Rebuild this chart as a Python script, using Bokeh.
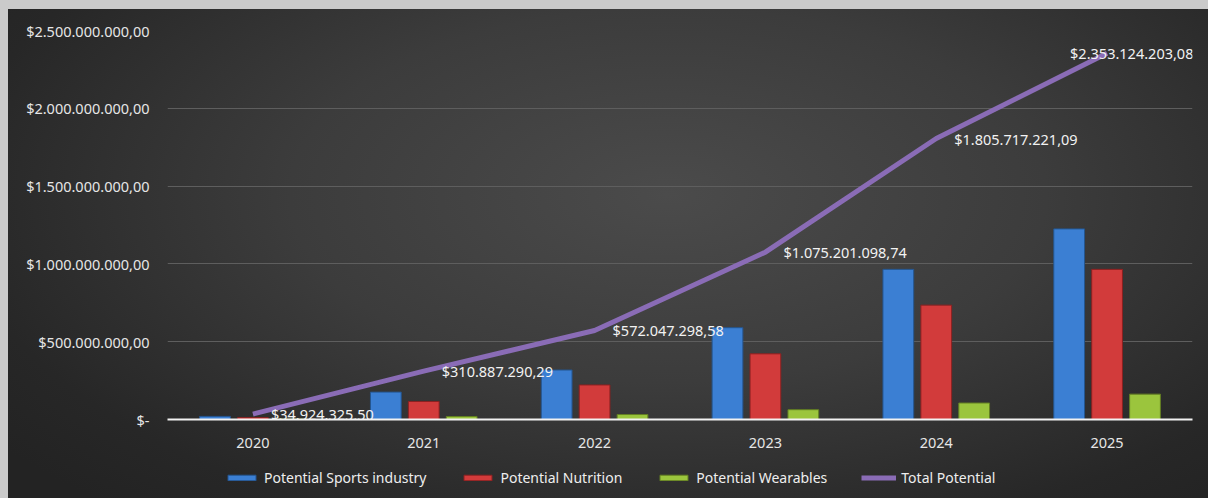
import numpy as np
from bokeh.plotting import figure
from bokeh.models import ColumnDataSource, FactorRange, Range1d, FixedTicker, Legend, LegendItem, LabelSet
from bokeh.transform import dodge
from bokeh.layouts import column
from bokeh.embed import file_html
from bokeh.resources import INLINE
from bokeh.core.properties import value

# ---- data ----
years = ["2020", "2021", "2022", "2023", "2024", "2025"]
sports = [20e6, 176e6, 318e6, 590e6, 965e6, 1225e6]
nutrition = [12e6, 116e6, 222e6, 422e6, 735e6, 965e6]
wearables = [3e6, 19e6, 32e6, 63e6, 106e6, 163e6]
total = [34924325.50, 310887290.29, 572047298.58, 1075201098.74, 1805717221.09, 2353124203.08]
total_labels = ["$34.924.325,50", "$310.887.290,29", "$572.047.298,58",
                "$1.075.201.098,74", "$1.805.717.221,09", "$2.353.124.203,08"]
y_ticks = [0, 500000000, 1000000000, 1500000000, 2000000000, 2500000000]
y_tick_labels = ["$-", "$500.000.000,00", "$1.000.000.000,00", "$1.500.000.000,00",
                 "$2.000.000.000,00", "$2.500.000.000,00"]
series_names = ["Potential Sports industry", "Potential Nutrition", "Potential Wearables", "Total Potential"]

FONT = "Noto Sans"
BLUE, BLUE_E = "#3b7fd3", "#24558f"
RED, RED_E = "#d23b3b", "#8c2020"
GREEN, GREEN_E = "#9bc53d", "#637f22"
PURPLE = "#8a6cb6"

src = ColumnDataSource(dict(years=years, sports=sports, nutrition=nutrition,
                            wearables=wearables, total=total, lbl=total_labels))
# label placement (style): right of point, last one pulled left so it stays inside
src.data["xoff"] = [18, 18, 18, 18, 18, -37]

p = figure(x_range=FactorRange(*years), y_range=Range1d(0, 2500000000),
           frame_width=1025, frame_height=389, output_backend="svg", toolbar_location=None,
           min_border_left=159, min_border_right=16, min_border_top=21, min_border_bottom=48)
p.background_fill_alpha = 0
p.border_fill_alpha = 0
p.outline_line_color = None

p.vbar(x=dodge("years", -0.222, range=p.x_range), top="sports", width=0.18, source=src,
       fill_color=BLUE, line_color=BLUE_E, line_width=1)
p.vbar(x=dodge("years", 0.0, range=p.x_range), top="nutrition", width=0.18, source=src,
       fill_color=RED, line_color=RED_E, line_width=1)
p.vbar(x=dodge("years", 0.222, range=p.x_range), top="wearables", width=0.18, source=src,
       fill_color=GREEN, line_color=GREEN_E, line_width=1)
p.line(x="years", y="total", source=src, line_width=5, line_color=PURPLE)

labels = LabelSet(x="years", y="total", text="lbl", source=src, x_offset="xoff", y_offset=0,
                  text_baseline="middle", text_align="left", text_font=value(FONT),
                  text_font_size="14.5px", text_color="#f2f2f2")
p.add_layout(labels)

# axes
p.yaxis.ticker = FixedTicker(ticks=y_ticks)
p.yaxis.major_label_overrides = dict(zip(y_ticks, y_tick_labels))
p.yaxis.axis_line_color = None
p.yaxis.major_tick_line_color = None
p.yaxis.minor_tick_line_color = None
p.yaxis.major_label_standoff = 12
p.yaxis.major_label_text_font = FONT
p.yaxis.major_label_text_font_size = "14.5px"
p.yaxis.major_label_text_color = "#e6e6e6"

p.xaxis.axis_line_color = "#f2f2f2"
p.xaxis.axis_line_width = 2
p.xaxis.major_tick_line_color = None
p.xaxis.minor_tick_line_color = None
p.xaxis.major_label_standoff = 12
p.xaxis.major_label_text_font = FONT
p.xaxis.major_label_text_font_size = "14.5px"
p.xaxis.major_label_text_color = "#e6e6e6"

p.xgrid.grid_line_color = None
p.ygrid.grid_line_color = "#5e5e5e"
p.ygrid.grid_line_width = 1

# ---- legend strip (separate, transparent figure below the chart) ----
lg = figure(width=1200, height=31, x_range=Range1d(0, 1), y_range=Range1d(0, 1),
            x_axis_type=None, y_axis_type=None, output_backend="svg", toolbar_location=None,
            min_border=0)
lg.background_fill_alpha = 0
lg.border_fill_alpha = 0
lg.outline_line_color = None
lg.grid.visible = False
# legend proxies: one non-drawable (NaN) row so that legend swatches get their style
proxy = ColumnDataSource(dict(x=np.array([np.nan]), y=np.array([np.nan])))
r1 = lg.vbar(x="x", top="y", width=0.1, source=proxy, fill_color=BLUE, line_color=BLUE_E)
r2 = lg.vbar(x="x", top="y", width=0.1, source=proxy, fill_color=RED, line_color=RED_E)
r3 = lg.vbar(x="x", top="y", width=0.1, source=proxy, fill_color=GREEN, line_color=GREEN_E)
r4 = lg.line(x="x", y="y", source=proxy, line_width=5, line_color=PURPLE)

legend = Legend(items=[LegendItem(label=series_names[0], renderers=[r1]),
                       LegendItem(label=series_names[1], renderers=[r2]),
                       LegendItem(label=series_names[2], renderers=[r3]),
                       LegendItem(label=series_names[3], renderers=[r4])],
                orientation="horizontal", location=(57, 11),
                glyph_width=35, glyph_height=7, label_standoff=5, spacing=34,
                padding=0, margin=0,
                label_text_font=FONT, label_text_font_size="14px", label_text_color="#eeeeee",
                background_fill_alpha=0, border_line_alpha=0)
lg.add_layout(legend, "center")

inner = column(p, lg, spacing=0, styles={
    "background": "radial-gradient(ellipse 70% 85% at 55% 38%, #4b4b4b 0%, #3c3c3c 45%, #272727 85%, #232323 100%)"})
layout = column(inner, styles={"background-color": "#cacaca", "padding-left": "8px", "padding-top": "9px"})

open("out.html", "w").write(file_html(layout, INLINE))
